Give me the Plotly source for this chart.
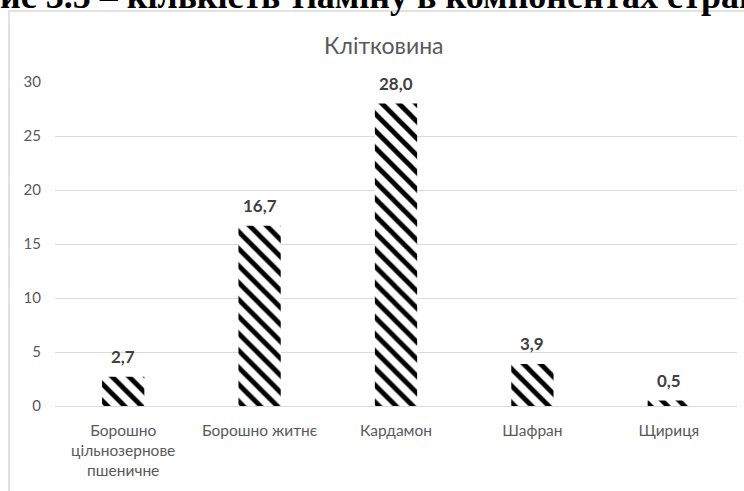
import plotly.graph_objects as go

categories = ["Борошно<br>цільнозернове<br>пшеничне", "Борошно житнє", "Кардамон", "Шафран", "Щириця"]
values = [2.7, 16.7, 28.0, 3.9, 0.5]
labels = ["2,7", "16,7", "28,0", "3,9", "0,5"]
y_ticks = [0, 5, 10, 15, 20, 25, 30]
chart_title = "Клітковина"
heading = "Рис 3.5 – кількість тіаміну в компонентах страв"

W, H = 744, 491
L, R, T, B = 55, 7, 82, 85
pw, ph = W - L - R, H - T - B

def px(x):
    return (x - L) / pw

def py(y):
    return 1 - (y - T) / ph

FONT = "Lato"

fig = go.Figure()
fig.add_trace(go.Bar(
    x=categories, y=values,
    width=0.31,
    marker=dict(color="white", line=dict(width=0),
                pattern=dict(shape="\\", fgcolor="black", bgcolor="white", fgopacity=1,
                             size=12, solidity=0.4)),
))

annotations = [
    dict(x=c, y=v, text=t, xref="x", yref="y", xanchor="center", yanchor="middle",
         yshift=20, showarrow=False,
         font=dict(family=FONT, size=17, color="#404040", weight="bold"))
    for c, v, t in zip(categories, values, labels)
]
annotations += [
    dict(text=chart_title, xref="paper", yref="paper", x=px(384), y=py(45),
         xanchor="center", yanchor="middle", showarrow=False,
         font=dict(family=FONT, size=23, color="#595959")),
    dict(text=heading, xref="paper", yref="paper", x=px(-24), y=py(18),
         xanchor="left", yanchor="bottom", showarrow=False,
         font=dict(family="Liberation Serif", size=36, color="black", weight="bold")),
]

fig.update_layout(
    width=W, height=H, margin=dict(l=L, r=R, t=T, b=B),
    paper_bgcolor="white", plot_bgcolor="white", showlegend=False,
    bargap=0.69,
    font=dict(family=FONT, color="#595959"),
    xaxis=dict(showgrid=False, showline=False, ticks="", tickfont=dict(size=15.5, color="#595959"),
               ticklabelstandoff=13),
    yaxis=dict(range=[0, 30], tickvals=y_ticks, showgrid=True, gridcolor="#d9d9d9", gridwidth=1,
               zeroline=True, zerolinecolor="#d9d9d9", zerolinewidth=1, showline=False, ticks="",
               tickfont=dict(size=15, color="#595959"), ticklabelstandoff=13),
    shapes=[dict(type="rect", xref="paper", yref="paper",
                 x0=px(9), x1=px(W + 10), y0=py(H + 10), y1=py(11),
                 line=dict(color="#d9d9d9", width=1.5), fillcolor="rgba(0,0,0,0)", layer="above")],
    annotations=annotations,
)

fig.write_html("out.html")
